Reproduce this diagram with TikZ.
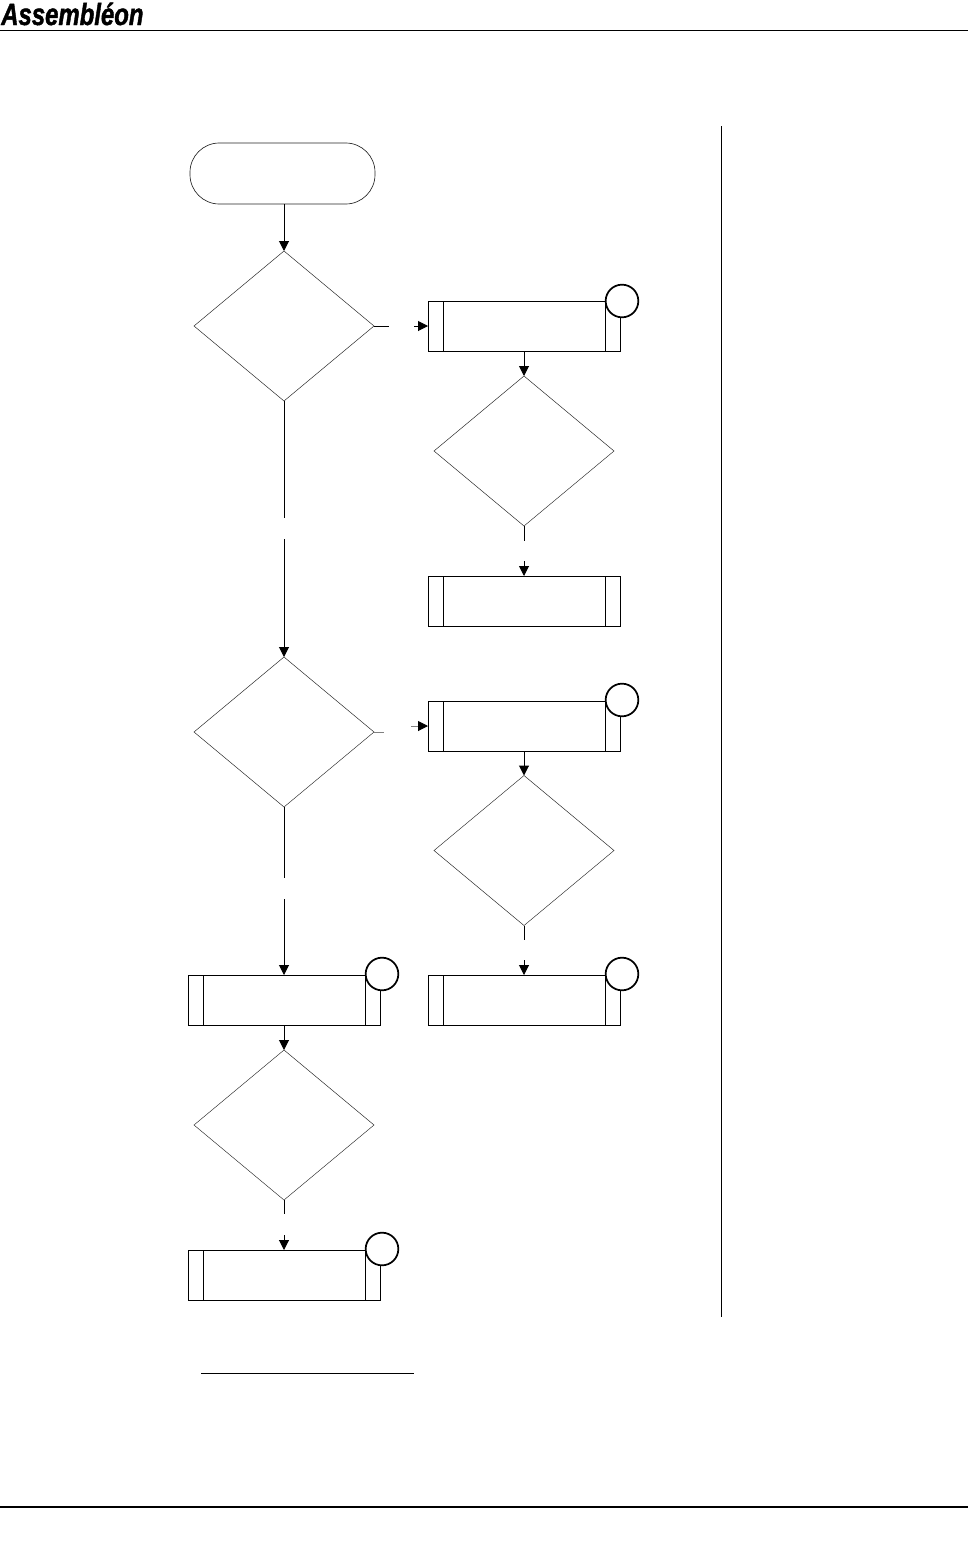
\documentclass[tikz,border=0pt]{standalone}
\usepackage{xcolor}
\usepackage{fontspec}
\setmainfont{Liberation Sans}
\newfontface\logofont{Liberation Sans Bold Italic}[RawFeature={embolden=1.6}]
\usetikzlibrary{positioning, shapes.geometric, arrows.meta}

\begin{document}
\begin{tikzpicture}[
    x=0.75pt, y=-0.75pt,
    >={Triangle[length=7.5pt, width=7.5pt]},
    start/.style={draw, rounded corners=22pt, minimum width=138.75pt,
                  minimum height=45.75pt, inner sep=0pt, outer sep=0pt,
                  line width=0.5pt, black!85},
    dec/.style={draw, diamond, minimum width=135pt, minimum height=112.5pt,
                inner sep=0pt, outer sep=0pt, line width=0.35pt, black!85},
    prc/.style={draw, minimum width=144pt, minimum height=37.5pt, inner sep=0pt,
                outer sep=0pt, line width=0.75pt,
                path picture={
                  \draw[line width=0.75pt]
                    ([xshift=11.25pt]path picture bounding box.north west) --
                    ([xshift=11.25pt]path picture bounding box.south west);
                  \draw[line width=0.75pt]
                    ([xshift=-11.25pt]path picture bounding box.north east) --
                    ([xshift=-11.25pt]path picture bounding box.south east);
                }},
    tag/.style={draw, circle, fill=white, minimum size=24.5pt, inner sep=0pt, line width=1.3pt},
    conn/.style={->, line width=0.75pt},
    stub/.style={line width=0.75pt},
    rulebar/.style={line width=0.75pt},
  ]

  \useasboundingbox (0,0) rectangle (968,1563);

  % ============ Page furniture ============
  \node[anchor=base west, inner sep=0pt] (logo) at (1,25)
    {\scalebox{0.78}[1]{\fontsize{23pt}{23pt}\logofont Assembléon}};
  \coordinate (headl) at (0,30);
  \coordinate (headr) at (968,30);
  \draw[rulebar] (headl) -- (headr);
  \coordinate (footl) at (0,1507);
  \coordinate (footr) at (968,1507);
  \draw[line width=1.1pt] (footl) -- (footr);
  \coordinate (bara) at (721,126);
  \coordinate (barb) at (721,1317);
  \draw[rulebar] (bara) -- (barb);
  \coordinate (notel) at (201,1373);
  \coordinate (noter) at (414,1373);
  \draw[rulebar] (notel) -- (noter);

  % ============ Left column ============
  \node[start] (st) at (282.5,173.5) {};
  \node[dec] (d1) at (284,326) {};
  \node[dec] (d3) at (284,732) {};
  \node[prc] (p5) at (284,1000) {};
  \node[dec] (d5) at (284,1125) {};
  \node[prc] (p6) at (284,1275) {};

  % ============ Right column ============
  \node[prc] (p1) at (524,326.5) {};
  \node[dec] (d2) at (524,451) {};
  \node[prc] (p2) at (524,601) {};
  \node[prc] (p3) at (524,726) {};
  \node[dec] (d4) at (524,850.5) {};
  \node[prc] (p4) at (524,1000) {};

  % ============ Circles ============
  \node[tag] (c1) at (622,301) {};
  \node[tag] (c3) at (622,700) {};
  \node[tag] (c4) at (622,974) {};
  \node[tag] (c5) at (382,974) {};
  \node[tag] (c6) at (382,1249) {};

  % ======== Connectors ========
  \draw[conn] (st.south -| d1.north) -- (d1.north);
  \draw[conn] (p1.south) -- (d2.north);
  \draw[conn] (p3.south) -- (d4.north);
  \draw[conn] (p5.south) -- (d5.north);

  % ======== Broken connectors ========
  \coordinate (g1a) at (284,518);
  \coordinate (g1b) at (284,539);
  \draw[stub] (d1.south) -- (g1a);
  \draw[conn] (g1b) -- (d3.north);

  \coordinate (g2a) at (284,878);
  \coordinate (g2b) at (284,899);
  \draw[stub] (d3.south) -- (g2a);
  \draw[conn] (g2b) -- (p5.north);

  \coordinate (g3a) at (524,541);
  \coordinate (g3b) at (524,561);
  \draw[stub] (d2.south) -- (g3a);
  \draw[conn] (g3b) -- (p2.north);

  \coordinate (g4a) at (524,940);
  \coordinate (g4b) at (524,960);
  \draw[stub] (d4.south) -- (g4a);
  \draw[conn] (g4b) -- (p4.north);

  \coordinate (g5a) at (284,1214);
  \coordinate (g5b) at (284,1235);
  \draw[stub] (d5.south) -- (g5a);
  \draw[conn] (g5b) -- (p6.north);

  \coordinate (g6a) at (389,326);
  \coordinate (g6b) at (414,326);
  \draw[stub] (d1.east) -- (g6a);
  \draw[conn] (g6b) -- (g6b -| p1.west);

  % this pair sits lower on the left than on the right
  \coordinate (g7a) at (384,732);
  \coordinate (g7b) at (411,726);
  \draw[stub, black!50] (d3.east) -- (g7a);
  \draw[-{Triangle[length=7.5pt, width=7.5pt, black]}, line width=0.75pt, black!50] (g7b) -- (p3.west);

\end{tikzpicture}
\end{document}
